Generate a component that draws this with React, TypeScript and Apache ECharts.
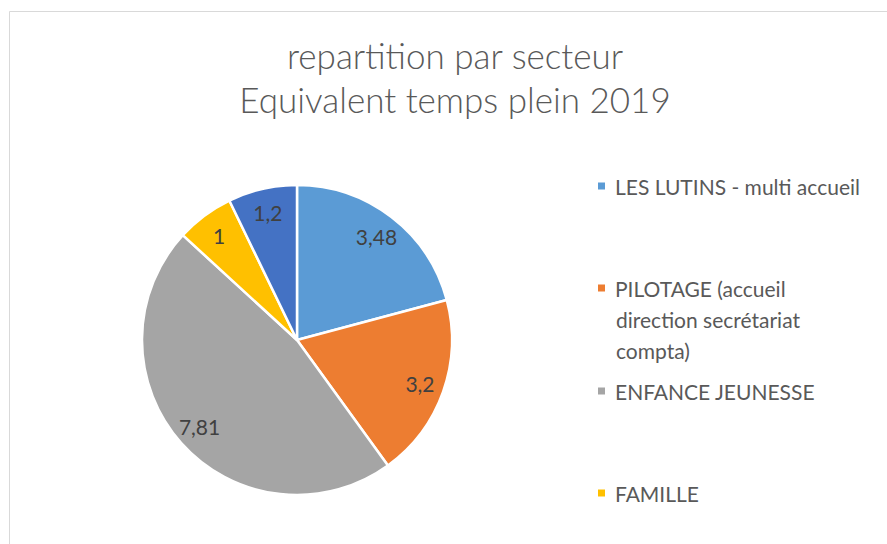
import React, { useEffect, useRef } from "react";
import * as echarts from "echarts";

const titleLines = ["repartition par secteur", "Equivalent temps plein 2019"];
const categories = [
  "LES LUTINS - multi accueil",
  "PILOTAGE (accueil direction secrétariat compta)",
  "ENFANCE JEUNESSE",
  "FAMILLE",
  "AUTRES",
];
const legendLines = [
  ["LES LUTINS - multi accueil"],
  ["PILOTAGE (accueil", "direction secrétariat", "compta)"],
  ["ENFANCE JEUNESSE"],
  ["FAMILLE"],
];
const values = [3.48, 3.2, 7.81, 1, 1.2];
const colors = ["#5B9BD5", "#ED7D31", "#A5A5A5", "#FFC000", "#4472C4"];

const FONT = "Lato, 'Open Sans', sans-serif";

export default function App() {
  const ref = useRef<HTMLDivElement>(null);
  useEffect(() => {
    if (!ref.current) return;
    const chart = echarts.init(ref.current, undefined, { renderer: "svg" });
    const data = categories.map((name, i) => ({
      name,
      value: values[i],
      itemStyle: { color: colors[i] },
    }));
    const legendCenters = [186, 288, 391, 493];
    const lineH = 31;
    const legends = legendLines.map((lines, i) => ({
      show: true,
      data: [categories[i]],
      left: 598,
      top: legendCenters[i] - lineH / 2,
      padding: 0,
      icon: "rect",
      itemWidth: 7,
      itemHeight: 7,
      itemStyle: { borderWidth: 0, color: colors[i] },
      selectedMode: false,
      formatter: () => `{t|${lines[0]}}`,
      textStyle: {
        fontFamily: FONT,
        fontSize: 21,
        color: "#595959",
        lineHeight: lineH,
        rich: {
          t: {
            fontFamily: FONT,
            fontSize: 21,
            color: "#595959",
            lineHeight: lineH,
            padding: [0, 0, 0, 5],
          },
        },
      },
    }));
    const extraTexts: any[] = [];
    legendLines.forEach((lines, i) => {
      lines.slice(1).forEach((t, j) => {
        extraTexts.push({
          type: "text",
          silent: true,
          x: 616,
          y: legendCenters[i] + lineH * (j + 1),
          style: {
            text: t,
            fontFamily: FONT,
            fontSize: 21,
            fill: "#595959",
            verticalAlign: "middle",
            align: "left",
          },
        });
      });
    });
    chart.setOption({
      animation: false,
      backgroundColor: "#ffffff",
      title: {
        text: titleLines.join("\n"),
        left: 450,
        top: 28,
        textAlign: "center",
        textStyle: {
          fontFamily: FONT,
          fontWeight: 300,
          fontSize: 35,
          color: "#595959",
          lineHeight: 44,
        },
      },
      graphic: [
        {
          type: "rect",
          silent: true,
          z: -10,
          shape: { x: 9.5, y: 11.5, width: 1000, height: 1000 },
          style: { fill: "none", stroke: "#D9D9D9", lineWidth: 1 },
        },
        ...extraTexts,
      ],
      legend: legends,
      series: [
        {
          type: "pie",
          center: [297, 340],
          radius: [0, 155],
          startAngle: 90,
          clockwise: true,
          silent: true,
          label: { show: false },
          labelLine: { show: false },
          itemStyle: { borderColor: "#ffffff", borderWidth: 2.5 },
          data,
        },
        {
          type: "pie",
          center: [297, 340],
          radius: [100, 155],
          startAngle: 90,
          clockwise: true,
          silent: true,
          legendHoverLink: false,
          itemStyle: { color: "rgba(0,0,0,0)", borderWidth: 0 },
          label: {
            show: true,
            position: "inside",
            fontFamily: FONT,
            fontSize: 21,
            color: "#404040",
            formatter: (p: any) => String(p.value).replace(".", ","),
          },
          labelLine: { show: false },
          data: categories.map((name, i) => ({ name, value: values[i] })),
        },
      ],
    });
    return () => chart.dispose();
  }, []);
  return (
    <div
      ref={ref}
      style={{ position: "fixed", left: 0, top: 0, width: 887, height: 544 }}
    />
  );
}
